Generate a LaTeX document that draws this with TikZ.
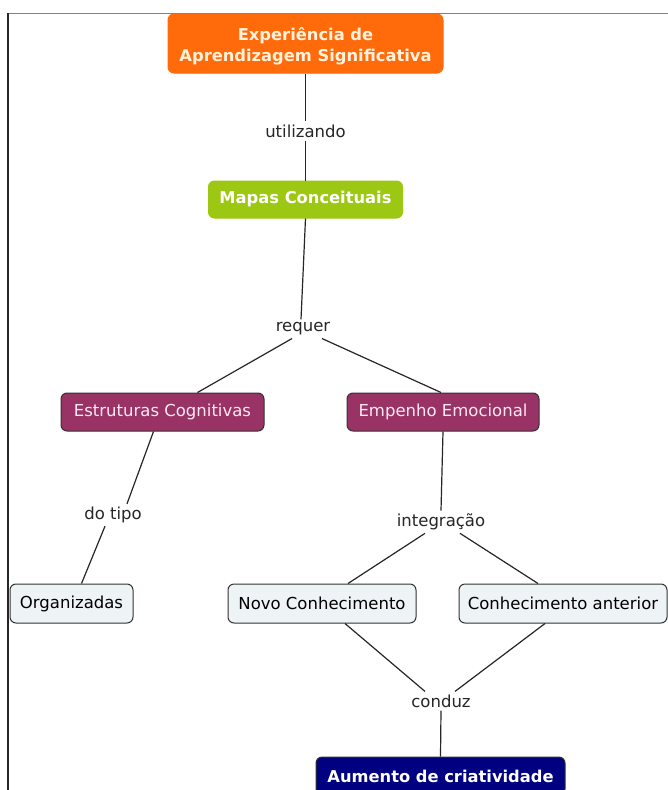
\documentclass[tikz,border=0pt]{standalone}
\usepackage{fontspec}
\setmainfont{DejaVu Sans}
\usetikzlibrary{calc}

\definecolor{cOrange}{HTML}{FF6A0A}
\definecolor{cGreen}{HTML}{9CC813}
\definecolor{cMaroon}{HTML}{993366}
\definecolor{cLight}{HTML}{EEF3F5}
\definecolor{cNavy}{HTML}{000080}
\definecolor{cEdge}{HTML}{333333}
\definecolor{cCream}{HTML}{FFF3DE}
\definecolor{cPink}{HTML}{FFE8F2}

\tikzset{
  concept/.style={draw=cEdge, line width=1pt, rounded corners=6pt,
    inner sep=0pt, align=center, font=\fontsize{16.5}{20}\selectfont},
  hot/.style={concept, fill=cOrange, draw=cOrange, text=cCream, font=\fontsize{16.3}{21}\selectfont\bfseries},
  lime/.style={concept, fill=cGreen, draw=cGreen, text=white, font=\fontsize{16.3}{20}\selectfont\bfseries},
  plum/.style={concept, fill=cMaroon, text=cPink},
  pale/.style={concept, fill=cLight, text=black},
  navybox/.style={concept, fill=cNavy, text=white, font=\fontsize{16.3}{20}\selectfont\bfseries},
  linkword/.style={inner sep=3pt, font=\fontsize{16.5}{20}\selectfont, text=black!85},
  link/.style={draw=black!85, line width=1.2pt},
}

\begin{document}
\begin{tikzpicture}[x=1pt, y=-1pt]
  \useasboundingbox (0,0) rectangle (668,790);
  \fill[white] (0,0) rectangle (668,790);

  % frame edges
  \draw[line width=1.6pt, draw=black!50] (7,13.5) -- (668,13.5);
  \draw[line width=1.6pt, draw=black!85] (8,13) -- (8,790);

  % concepts
  \node[hot, minimum width=275pt, minimum height=59pt] (exp) at (305.5,43.5) {};
  \node[hot, draw=none, fill=none] (exptext) at ([yshift=-2.5pt]exp.center)
    {Experiência de\\Aprendizagem Significativa};
  \node[lime, minimum width=194pt, minimum height=37pt] (mapas) at (305.5,199.5) {Mapas Conceituais};
  \node[plum, minimum width=203pt, minimum height=38pt] (estr) at (162.5,412) {Estruturas Cognitivas};
  \node[plum, minimum width=192pt, minimum height=38pt] (emp) at (443,412) {Empenho Emocional};
  \node[pale, minimum width=123pt, minimum height=39pt] (org) at (71.5,603.5) {Organizadas};
  \node[pale, minimum width=188pt, minimum height=39pt] (novo) at (322,603.5) {Novo Conhecimento};
  \node[pale, minimum width=208pt, minimum height=39pt] (ant) at (563,603.5) {Conhecimento anterior};
  \node[navybox, minimum width=249pt, minimum height=38pt] (aum) at (440.5,776) {Aumento de criatividade};

  % linking words
  \node[linkword] (utl) at (305.5,131) {utilizando};
  \node[linkword] (req) at (303,329) {requer};
  \node[linkword] (tipo) at (113,515) {do tipo};
  \node[linkword] (integ) at (441,522) {integração};
  \node[linkword] (cond) at (441,701) {conduz};

  % connectors
  \draw[link] (exp.south) -- (utl.north);
  \draw[link] (utl.south) -- (mapas.north);
  \draw[link] (mapas.south) -- ([xshift=-2pt]req.north);
  \draw[link] ([xshift=-11pt]req.south) -- ([xshift=35pt]estr.north);
  \draw[link] ([xshift=19pt]req.south) -- ([xshift=-2pt]emp.north);
  \draw[link] ([xshift=-9pt]estr.south) -- ([xshift=14pt]tipo.north);
  \draw[link] ([xshift=-8pt]tipo.south) -- ([xshift=10pt]org.north);
  \draw[link] (emp.south) -- (integ.north);
  \draw[link] ([xshift=-16pt]integ.south) -- ([xshift=26pt]novo.north);
  \draw[link] ([xshift=19pt]integ.south) -- ([xshift=-25pt]ant.north);
  \draw[link] ([xshift=23pt]novo.south) -- ([xshift=-16pt]cond.north);
  \draw[link] ([xshift=-18pt]ant.south) -- ([xshift=14pt]cond.north);
  \draw[link] (cond.south) -- (aum.north);
\end{tikzpicture}
\end{document}
